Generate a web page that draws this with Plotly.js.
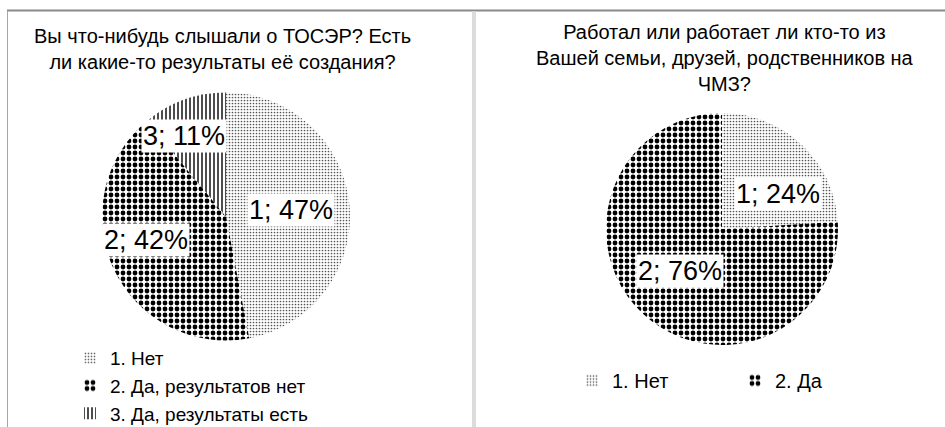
<!DOCTYPE html>
<html><head><meta charset="utf-8">
<script src="https://cdn.plot.ly/plotly-3.0.1.min.js"></script>
<style>html,body{margin:0;padding:0;background:#fff;}</style>
</head><body><div id="chart" style="width:945px;height:427px;"></div>
<script>
// ---- data ----
const leftTitle = "Вы что-нибудь слышали о ТОСЭР? Есть<br>ли какие-то результаты её создания?";
const leftCodes = ["1", "2", "3"];
const leftLabels = ["1. Нет", "2. Да, результатов нет", "3. Да, результаты есть"];
const leftValues = [47, 42, 11];

const rightTitle = "Работал или работает ли кто-то из<br>Вашей семьи, друзей, родственников на<br>ЧМЗ?";
const rightCodes = ["1", "2"];
const rightLabels = ["1. Нет", "2. Да"];
const rightValues = [24, 76];

// ---- styles ----
const W = 945, H = 427;
const FONT = '"Liberation Sans", Arial, sans-serif';
const TXT = '#000000';
const PAT_DOTS = {shape: '.', fgcolor: '#555555', bgcolor: '#ffffff', size: 3, solidity: 0.25};
const PAT_CHECK = {shape: '.', fgcolor: '#000000', bgcolor: '#ffffff', size: 6, solidity: 0.5};
const PAT_LINES = {shape: '|', fgcolor: '#000000', bgcolor: '#ffffff', size: 4, solidity: 0.35};

const leftPatterns = [PAT_DOTS, PAT_CHECK, PAT_LINES];
const rightPatterns = [PAT_DOTS, PAT_CHECK];
function patArr(pats) {
  return {
    shape: pats.map(p => p.shape), fgcolor: pats.map(p => p.fgcolor),
    bgcolor: pats.map(p => p.bgcolor), size: pats.map(p => p.size),
    solidity: pats.map(p => p.solidity), fillmode: 'replace'
  };
}

const leftDomain = {x: [102 / W, 350 / W], y: [86.5 / H, 334.5 / H]};
const rightDomain = {x: [606 / W, 838 / W], y: [82 / H, 314 / H]};
// label placement (radius fraction, angular nudge in degrees) – Excel "best fit" look
const leftLabelR = [0.53, 0.67, 0.73];
const leftLabelShift = [0, 9, -8];
const rightLabelR = [0.57, 0.51];
const rightLabelShift = [15, 2];

function pieLabels(values, codes, domain, fr, shift) {
  const cx = (domain.x[0] + domain.x[1]) / 2 * W;
  const cy = (1 - (domain.y[0] + domain.y[1]) / 2) * H;
  const R = Math.min((domain.x[1] - domain.x[0]) * W, (domain.y[1] - domain.y[0]) * H) / 2;
  const total = values.reduce((a, b) => a + b, 0);
  let cum = 0;
  return values.map((v, i) => {
    const a = (cum + v / 2) / total * 2 * Math.PI + shift[i] * Math.PI / 180;
    cum += v;
    const x = cx + fr[i] * R * Math.sin(a);
    const y = cy - fr[i] * R * Math.cos(a);
    return {
      xref: 'paper', yref: 'paper', x: x / W, y: 1 - y / H,
      xanchor: 'center', yanchor: 'middle',
      text: codes[i] + '; ' + Math.round(v / total * 100) + '%',
      showarrow: false, bgcolor: '#ffffff', borderpad: 1,
      font: {family: FONT, size: 27, color: TXT}
    };
  });
}

const traces = [
  {
    type: 'pie', labels: leftLabels, values: leftValues, sort: false,
    direction: 'clockwise', rotation: 0, domain: leftDomain,
    textinfo: 'none', hoverinfo: 'none',
    marker: {colors: ['#ffffff', '#ffffff', '#ffffff'], line: {width: 0}, pattern: patArr(leftPatterns)},
    legend: 'legend', legendgroup: 'left'
  },
  {
    type: 'pie', labels: rightLabels, values: rightValues, sort: false,
    direction: 'clockwise', rotation: 0, domain: rightDomain,
    textinfo: 'none', hoverinfo: 'none',
    marker: {colors: ['#ffffff', '#ffffff'], line: {width: 0}, pattern: patArr(rightPatterns)},
    legend: 'legend2', legendgroup: 'right'
  }
];

const annotations = [
  {xref: 'paper', yref: 'paper', x: 222 / W, y: 1 - 23 / H, xanchor: 'center', yanchor: 'top',
   text: leftTitle, showarrow: false, align: 'center', font: {family: FONT, size: 20, color: TXT}},
  {xref: 'paper', yref: 'paper', x: 725 / W, y: 1 - 19 / H, xanchor: 'center', yanchor: 'top',
   text: rightTitle, showarrow: false, align: 'center', font: {family: FONT, size: 20, color: TXT}}
].concat(pieLabels(leftValues, leftCodes, leftDomain, leftLabelR, leftLabelShift))
 .concat(pieLabels(rightValues, rightCodes, rightDomain, rightLabelR, rightLabelShift));

const shapes = [
  {type: 'line', xref: 'paper', yref: 'paper', x0: 7 / W, x1: 1, y0: 1 - 10.5 / H, y1: 1 - 10.5 / H,
   line: {color: '#8a8a8a', width: 2}},
  {type: 'line', xref: 'paper', yref: 'paper', x0: 7.5 / W, x1: 7.5 / W, y0: 1 - 11 / H, y1: 0,
   line: {color: '#a6a6a6', width: 1}},
  {type: 'line', xref: 'paper', yref: 'paper', x0: 474 / W, x1: 474 / W, y0: 1 - 11.5 / H, y1: 0,
   line: {color: '#dcdcdc', width: 4}}
];

const layout = {
  width: W, height: H, margin: {l: 0, r: 0, t: 0, b: 0, autoexpand: false},
  paper_bgcolor: '#ffffff', plot_bgcolor: '#ffffff',
  showlegend: true,
  legend: {x: 70 / W, y: 1 - 339 / H, xanchor: 'left', yanchor: 'top', orientation: 'v',
           font: {family: FONT, size: 19, color: TXT}, bgcolor: 'rgba(0,0,0,0)', traceorder: 'normal'},
  legend2: {x: 572 / W, y: 1 - 361 / H, xanchor: 'left', yanchor: 'top', orientation: 'h',
            traceorder: 'normal', entrywidth: 118,
            font: {family: FONT, size: 20, color: TXT}, bgcolor: 'rgba(0,0,0,0)'},
  annotations: annotations,
  shapes: shapes
};

Plotly.newPlot('chart', traces, layout, {displayModeBar: false, staticPlot: true});
</script></body></html>
